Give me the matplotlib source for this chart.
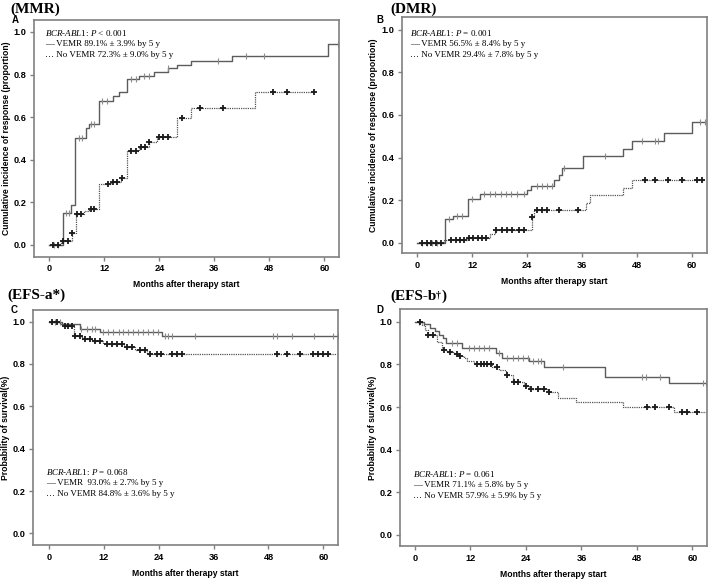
import numpy as np
import matplotlib.pyplot as plt

plt.rcParams['mathtext.fontset'] = 'custom'
plt.rcParams['mathtext.rm'] = 'Liberation Serif'
plt.rcParams['mathtext.it'] = 'Liberation Serif:italic'

# ---- data (months, proportion) ----
# A: MMR
a_vemr_t = [2.9, 4.7, 5.7, 7.9, 8.6, 10.8, 13.8, 15.3, 16.9, 19.6, 22.9, 25.8, 27.8, 30.9, 39.9, 60.7]
a_vemr_v = [0.15, 0.186, 0.50, 0.55, 0.57, 0.675, 0.70, 0.72, 0.78, 0.795, 0.81, 0.83, 0.847, 0.865, 0.887, 0.942]
a_vemr_c = [1.1, 2.0, 3.6, 4.4, 6.5, 7.1, 9.1, 9.7, 11.6, 12.5, 17.8, 18.9, 20.7, 21.8, 26.0, 36.9, 42.9, 46.9, 62.9]
a_novemr_t = [2.5, 4.9, 5.8, 7.6, 8.7, 10.8, 13.5, 15.6, 16.9, 19.6, 21.8, 23.6, 27.8, 30.9, 44.9]
a_novemr_v = [0.02, 0.055, 0.147, 0.158, 0.168, 0.285, 0.296, 0.315, 0.44, 0.46, 0.484, 0.508, 0.594, 0.644, 0.716]
a_novemr_c = [0.7, 1.8, 2.9, 4.0, 4.9, 6.0, 6.9, 9.1, 9.8, 12.7, 13.8, 14.8, 15.9, 17.8, 18.9, 20.0, 20.9,
              21.8, 23.9, 24.9, 25.8, 28.9, 32.9, 37.8, 48.9, 51.9, 57.8]

# B: DMR
b_vemr_t = [5.96, 7.85, 11.05, 13.8, 24.1, 24.9, 30.0, 30.9, 31.6, 36.2, 44.9, 46.9, 54.0, 60.0]
b_vemr_v = [0.11, 0.124, 0.207, 0.23, 0.246, 0.267, 0.296, 0.32, 0.35, 0.408, 0.44, 0.477, 0.516, 0.565]
b_vemr_c = [1.1, 2.2, 3.3, 4.4, 6.9, 8.7, 9.8, 12.0, 14.5, 16.0, 17.1, 18.2, 19.3, 20.4, 21.8, 23.3, 26.2,
            27.3, 28.4, 29.5, 32.0, 41.1, 49.1, 52.0, 52.7, 61.8, 62.9]
b_novemr_t = [5.8, 10.8, 15.9, 16.9, 25.1, 25.6, 36.9, 37.7, 44.9, 46.9]
b_novemr_v = [0.011, 0.024, 0.042, 0.058, 0.12, 0.152, 0.187, 0.223, 0.257, 0.294]
b_novemr_c = [1.1, 2.2, 3.1, 4.0, 5.1, 7.3, 8.4, 9.3, 10.2, 11.3, 12.2, 13.2, 14.2, 15.1, 17.3, 18.5, 19.6,
              20.7, 22.2, 23.3, 25.1, 26.2, 27.3, 28.4, 30.9, 35.1, 49.8, 52.0, 54.9, 57.8, 61.1, 62.2]

# C: EFS-a
c_vemr_t = [2.8, 6.8, 11.15, 24.8]
c_vemr_v = [0.987, 0.964, 0.95, 0.932]
c_vemr_c = [1.3, 2.3, 7.1, 8.2, 9.3, 10.1, 11.9, 13.0, 14.1, 15.2, 16.2, 17.3, 18.4, 19.5, 20.6, 21.7, 22.8,
            23.9, 25.4, 26.1, 26.8, 31.9, 49.0, 49.9, 53.1, 57.9, 62.2, 63.1]
c_novemr_t = [2.4, 3.1, 5.5, 7.3, 9.5, 11.8, 16.5, 18.7, 21.5]
c_novemr_v = [0.987, 0.98, 0.93, 0.92, 0.91, 0.895, 0.88, 0.865, 0.848]
c_novemr_c = [0.6, 1.8, 3.4, 4.2, 5.0, 5.7, 6.8, 7.9, 9.0, 10.1, 11.2, 12.6, 13.7, 14.8, 15.9, 17.0, 18.1,
              19.9, 21.0, 22.1, 23.6, 24.6, 26.8, 27.9, 29.0, 49.8, 52.0, 54.9, 57.8, 58.9, 60.0, 61.1]

# D: EFS-b
d_vemr_t = [2.0, 3.3, 4.4, 5.1, 6.0, 6.8, 10.2, 17.5, 18.9, 24.7, 28.0, 41.1, 54.9]
d_vemr_v = [0.99, 0.97, 0.955, 0.94, 0.925, 0.90, 0.877, 0.855, 0.83, 0.815, 0.79, 0.74, 0.711]
d_vemr_c = [0.8, 8.0, 9.1, 11.6, 12.7, 13.8, 14.9, 16.0, 18.2, 20.0, 21.1, 22.2, 23.3, 24.4, 25.5, 26.6,
            27.3, 32.1, 49.2, 50.0, 53.1, 62.2, 63.0]
d_novemr_t = [1.5, 2.2, 2.8, 4.7, 5.8, 6.9, 8.4, 9.5, 10.5, 11.3, 12.7, 16.7, 18.2, 19.6, 21.1, 23.6, 24.7,
              28.7, 30.9, 34.9, 45.1, 56.0]
d_novemr_v = [0.984, 0.963, 0.94, 0.905, 0.867, 0.858, 0.848, 0.838, 0.828, 0.816, 0.80, 0.79, 0.773,
              0.748, 0.717, 0.70, 0.685, 0.67, 0.643, 0.623, 0.60, 0.579]
d_novemr_c = [1.0, 2.9, 3.8, 6.2, 7.6, 9.1, 9.8, 13.5, 14.2, 14.9, 15.6, 16.4, 17.8, 19.9, 21.5, 22.2, 24.0,
              25.1, 26.5, 28.0, 29.0, 50.2, 52.0, 54.9, 57.8, 58.9, 60.9]

xticks = [0, 12, 24, 36, 48, 60]
yticks = [0.0, 0.2, 0.4, 0.6, 0.8, 1.0]

W, H = 709, 580
fig = plt.figure(figsize=(W / 100, H / 100), dpi=100)
fig.patch.set_facecolor('white')

SANS = 'Liberation Sans'
SERIF = 'Liberation Serif'


def px_axes(l, t, r, b):
    return fig.add_axes([l / W, 1 - b / H, (r - l) / W, (b - t) / H])


def km(ax, t, v, cens, start, end, dotted):
    tt = np.r_[0, t, end]
    vv = np.r_[start, v, v[-1]]
    cy = vv[np.searchsorted(tt, cens, side='right') - 1]
    if dotted:
        ax.step(tt, vv, where='post', color='#555555', lw=0.9, ls=(0, (1.0, 0.8)))
        ax.plot(cens, cy, ls='none', marker='+', ms=5, mew=1.3, color='#1a1a1a')
    else:
        ax.step(tt, vv, where='post', color='#5c5c5c', lw=1.0)
        ax.plot(cens, cy, ls='none', marker='|', ms=5, mew=0.8, color='#8c8c8c')


def style(ax, ylab, xlim, ylim):
    ax.set_xlim(*xlim)
    ax.set_ylim(*ylim)
    ax.set_xticks(xticks)
    ax.set_yticks(yticks)
    ax.set_yticklabels(['%.1f' % y for y in yticks])
    for s in ax.spines.values():
        s.set_color('#808080')
        s.set_linewidth(1.2)
    ax.tick_params(length=3, width=1, color='#808080', pad=2.5)
    for lab in ax.get_xticklabels() + ax.get_yticklabels():
        lab.set_fontfamily(SANS)
        lab.set_fontweight('bold')
        lab.set_fontsize(6.6)
    ax.set_xlabel('Months after therapy start', fontfamily=SANS, fontweight='bold', fontsize=6.2, labelpad=5)
    ax.set_ylabel(ylab, fontfamily=SANS, fontweight='bold', fontsize=6.2, labelpad=2)


def legend(x, y, lines):
    for i, s in enumerate(lines):
        fig.text(x / W, 1 - (y + i * 10.8) / H, s, fontfamily=SERIF, fontsize=6.5, va='center', ha='left')


ylab_top = 'Cumulative incidence of response (proportion)'
ylab_bot = 'Probability of survival(%)'

# A
axA = px_axes(34, 20, 339, 256.7)
km(axA, a_vemr_t, a_vemr_v, a_vemr_c, 0, 62.9, False)
km(axA, a_novemr_t, a_novemr_v, a_novemr_c, 0, 57.8, True)
style(axA, ylab_top, (-3.34, 63.2), (-0.055, 1.056))
legend(45, 33, [r'$BCR$-$ABL1$: $P$ < 0.001',
                '\u2014 VEMR 89.1% \u00b1 3.9% by 5 y',
                '\u2026 No VEMR 72.3% \u00b1 9.0% by 5 y'])

# B
axB = px_axes(401.7, 16.7, 706.7, 253.3)
km(axB, b_vemr_t, b_vemr_v, b_vemr_c, 0, 62.9, False)
km(axB, b_novemr_t, b_novemr_v, b_novemr_c, 0, 63.0, True)
style(axB, ylab_top, (-3.41, 63.3), (-0.05, 1.062))
legend(410, 33, [r'$BCR$-$ABL1$: $P$ = 0.001',
                 '\u2014 VEMR 56.5% \u00b1 8.4% by 5 y',
                 '\u2026 No VEMR 29.4% \u00b1 7.8% by 5 y'])

# C
axC = px_axes(33, 310, 338, 545)
km(axC, c_vemr_t, c_vemr_v, c_vemr_c, 1, 63.1, False)
km(axC, c_novemr_t, c_novemr_v, c_novemr_c, 1, 63.1, True)
style(axC, ylab_bot, (-3.5, 63.2), (-0.055, 1.055))
legend(46, 472, [r'$BCR$-$ABL1$: $P$ = 0.068',
                 '\u2014 VEMR  93.0% \u00b1 2.7% by 5 y',
                 '\u2026 No VEMR 84.8% \u00b1 3.6% by 5 y'])

# D
axD = px_axes(400, 309, 706.7, 546)
km(axD, d_vemr_t, d_vemr_v, d_vemr_c, 1, 63.1, False)
km(axD, d_novemr_t, d_novemr_v, d_novemr_c, 1, 63.1, True)
style(axD, ylab_bot, (-3.25, 63.1), (-0.052, 1.06))
legend(413, 474, [r'$BCR$-$ABL1$: $P$ = 0.061',
                  '\u2014 VEMR 71.1% \u00b1 5.8% by 5 y',
                  '\u2026 No VEMR 57.9% \u00b1 5.9% by 5 y'])


# panel titles and letters
def ftxt(x, y, s, **kw):
    return fig.text(x / W, 1 - y / H, s, **kw)


tkw = dict(fontfamily=SERIF, fontweight='bold', fontsize=11, va='center', ha='left')
ftxt(10, 9, '(MMR)', **tkw)
ftxt(390, 9, '(DMR)', **tkw)
ftxt(7, 295, '(EFS-a*)', **tkw)
t1 = ftxt(390, 296, '(EFS-b', **tkw)
a1 = fig.add_artist(plt.Annotation('\u2020', xy=(1, 0.92), xycoords=t1, va='top', ha='left',
                                   fontfamily=SERIF, fontweight='bold', fontsize=7))
fig.add_artist(plt.Annotation(')', xy=(1, 0.5), xycoords=(a1, t1), va='center', ha='left',
                              fontfamily=SERIF, fontweight='bold', fontsize=11))

lkw = dict(fontfamily=SANS, fontweight='bold', fontsize=7, va='center', ha='left')
ftxt(12, 20, 'A', **lkw)
ftxt(376, 20, 'B', **lkw)
ftxt(11, 310, 'C', **lkw)
ftxt(376, 310, 'D', **lkw)

fig.savefig('out.png', dpi=100)
